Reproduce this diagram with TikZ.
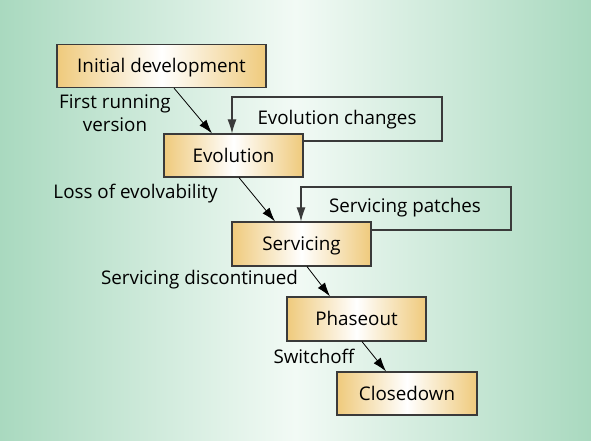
\documentclass[tikz,border=0pt]{standalone}
\usepackage{fontspec}
\setmainfont{Open Sans}
\usetikzlibrary{arrows.meta}
\definecolor{bgedge}{HTML}{A9D9BF}
\definecolor{bgmid}{HTML}{F2FAF5}
\definecolor{boxo}{HTML}{EFCA7C}
\definecolor{bord}{HTML}{3A3A3A}
\tikzset{
  stagebox/.style={draw=bord, line width=1.2pt, left color=boxo, right color=boxo, middle color=white,
    minimum height=43pt, inner sep=0pt, text height=13.4pt, text depth=0pt, font=\fontsize{18.8}{23}\selectfont},
  lbl/.style={font=\fontsize{18.8}{23}\selectfont, inner sep=0pt, align=center},
  arr/.style={draw=black, line width=0.8pt, -{Latex[length=14pt,width=9pt]}},
  loopline/.style={draw=bord, line width=1.1pt, -{Latex[length=14pt,width=9pt]}}
}
\begin{document}
\begin{tikzpicture}[x=1pt,y=-1pt]
\shade[left color=bgedge, right color=bgedge, middle color=bgmid] (0,0) rectangle (591,441);
\useasboundingbox (0,0) rectangle (591,441);

\node[stagebox, minimum width=209pt] (init) at (161.5,66) {Initial development};
\node[stagebox, minimum width=139pt] (evo) at (233.5,155.5) {Evolution};
\node[stagebox, minimum width=139pt, minimum height=44pt] (serv) at (301.5,244) {Servicing};
\node[stagebox, minimum width=139pt, minimum height=44pt] (phase) at (356.5,319) {Phaseout};
\node[stagebox, minimum width=140pt] (close) at (407,393.5) {Closedown};

\draw[arr] ([xshift=12.5pt]init.south) -- ([xshift=-21.5pt]evo.north);
\draw[arr] ([xshift=5.5pt]evo.south) -- ([xshift=-26.5pt]serv.north);
\draw[arr] ([xshift=5.5pt]serv.south) -- ([xshift=-26.5pt]phase.north);
\draw[arr] ([xshift=5.5pt]phase.south) -- ([xshift=-21pt]close.north);

\coordinate (ec1) at (442,141);
\coordinate (ec2) at (442,97);
\coordinate (ec3) at (232,97);
\draw[loopline] (evo.east |- ec1) -- (ec1) -- (ec2) -- (ec3) -- (ec3 |- evo.north);

\coordinate (sp1) at (511,230);
\coordinate (sp2) at (511,187);
\coordinate (sp3) at (301,187);
\draw[loopline] (serv.east |- sp1) -- (sp1) -- (sp2) -- (sp3) -- (sp3 |- serv.north);

\node[lbl] (lfr) at (115,113) {First running\\version};
\node[lbl] (lec) at (337,120) {Evolution changes};
\node[lbl] (lle) at (135.5,194) {Loss of evolvability};
\node[lbl] (lsp) at (405,208) {Servicing patches};
\node[lbl] (lsd) at (199.5,280) {Servicing discontinued};
\node[lbl] (lsw) at (314,356) {Switchoff};
\end{tikzpicture}
\end{document}
